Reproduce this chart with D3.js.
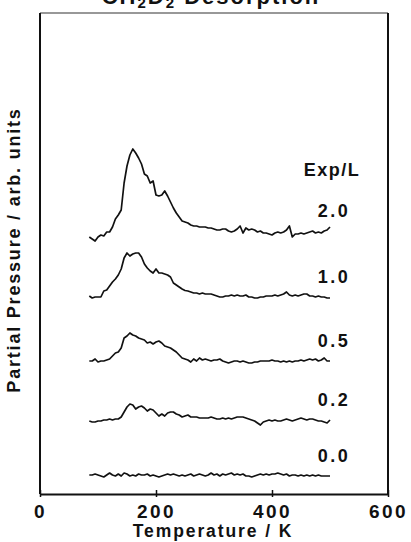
<!DOCTYPE html>
<html>
<head>
<meta charset="utf-8">
<script src="https://cdn.jsdelivr.net/npm/d3@7"></script>
<style>
body { margin: 0; background: #fff; }
text { font-family: "Liberation Sans", Arial, Helvetica, sans-serif; font-weight: bold; fill: #111; }
</style>
</head>
<body>
<svg id="chart" width="411" height="542"></svg>
<script>
// temperature grid (K) shared by all traces
var temps = [85, 90, 95, 100, 105, 110, 115, 120, 125, 130,
             135, 140, 145, 150, 155, 160, 165, 170, 175, 180,
             185, 190, 195, 200, 205, 210, 215, 220, 225, 230,
             235, 240, 245, 250, 255, 260, 265, 270, 275, 280,
             285, 290, 295, 300, 305, 310, 315, 320, 325, 330,
             335, 340, 345, 350, 355, 360, 365, 370, 375, 380,
             385, 390, 395, 400, 405, 410, 415, 420, 425, 430,
             435, 440, 445, 450, 455, 460, 465, 470, 475, 480,
             485, 490, 495, 500];

// exposure labels (L) and vertical stacking offsets (arb. units)
var exposures = ['2.0', '1.0', '0.5', '0.2', '0.0'];
var offsets = [26.4, 19.8, 13.4, 7.5, 1.9];

// partial pressure signal above each baseline (arb. units)
var sig20 = [-0.7, -0.9, -1.1, -0.7, -0.5, -0.6, -0.2, -0.2, 0.3, 1.1,
             1.5, 2.0, 4.7, 6.4, 7.5, 8.1, 7.7, 7.2, 6.6, 5.6,
             5.4, 4.7, 4.9, 3.5, 3.4, 3.5, 3.9, 3.4, 2.8, 2.2,
             1.7, 1.3, 0.9, 0.8, 0.7, 0.5, 0.4, 0.4, 0.3, 0.3,
             0.3, 0.2, 0.2, 0.1, 0.0, 0.0, 0.1, 0.1, -0.1, -0.2,
             -0.1, 0.1, 0.4, -0.3, 0.2, 0.0, 0.1, 0.0, -0.2, -0.1,
             -0.3, -0.3, -0.4, -0.5, -0.3, -0.2, -0.3, -0.2, 0.0, 0.4,
             -0.7, -0.4, -0.4, -0.3, -0.4, -0.3, -0.2, -0.1, -0.3, -0.2,
             -0.3, -0.1, 0.0, 0.3];
var sig10 = [0.0, -0.2, -0.1, -0.1, -0.1, 0.5, 0.6, 1.0, 1.4, 1.7,
             2.1, 2.7, 3.8, 4.3, 4.0, 4.2, 4.3, 4.3, 3.9, 3.2,
             2.8, 2.5, 2.3, 2.7, 2.3, 2.3, 2.2, 2.1, 1.9, 1.3,
             1.1, 0.9, 0.7, 0.55, 0.5, 0.4, 0.3, 0.3, 0.2, 0.3,
             0.2, 0.2, 0.2, 0.1, 0.0, -0.1, -0.1, 0.0, 0.0, 0.1,
             0.0, 0.1, 0.0, 0.0, 0.1, -0.1, -0.1, -0.2, -0.2, -0.1,
             -0.1, 0.0, 0.0, 0.0, 0.1, 0.0, 0.1, 0.2, 0.4, 0.1,
             0.0, 0.1, 0.0, 0.1, 0.2, 0.2, 0.0, 0.0, -0.1, 0.0,
             -0.1, -0.1, -0.2, -0.2];
var sig05 = [-0.1, -0.1, 0.1, -0.2, -0.1, -0.1, 0.0, 0.1, 0.4, 0.7,
             0.8, 1.2, 2.2, 2.4, 2.7, 2.5, 2.4, 2.2, 2.1, 2.0,
             1.7, 1.8, 1.6, 1.8, 1.9, 1.7, 1.4, 1.3, 1.2, 1.0,
             0.8, 0.5, 0.2, 0.1, 0.0, -0.2, 0.1, -0.1, 0.2, 0.0,
             0.1, 0.0, -0.1, 0.0, 0.0, 0.1, -0.1, -0.2, -0.3, -0.2,
             -0.1, -0.1, -0.2, -0.1, -0.2, -0.3, -0.3, -0.2, -0.2, -0.1,
             -0.1, -0.1, -0.1, 0.0, -0.1, -0.1, -0.2, -0.1, -0.2, -0.1,
             -0.2, -0.1, -0.1, 0.0, -0.1, 0.0, 0.1, 0.0, 0.1, -0.1,
             0.0, 0.2, -0.1, -0.1];
var sig02 = [-0.2, -0.3, -0.3, -0.2, -0.2, -0.1, -0.1, 0.0, -0.1, 0.0,
             0.0, 0.2, 0.7, 1.2, 1.5, 1.4, 1.0, 1.2, 1.3, 1.1,
             0.8, 1.0, 0.9, 0.6, 0.3, 0.5, 0.3, 0.6, 0.7, 0.7,
             0.5, 0.4, 0.2, 0.3, 0.4, 0.2, 0.2, 0.2, 0.1, 0.1,
             0.1, 0.1, 0.2, 0.1, 0.0, 0.0, 0.1, 0.0, 0.1, 0.0,
             0.1, 0.2, 0.2, 0.2, 0.1, 0.0, -0.1, -0.2, -0.4, -0.6,
             -0.3, -0.2, -0.1, -0.2, -0.1, -0.2, -0.2, -0.1, 0.0, -0.1,
             -0.2, -0.1, 0.0, 0.1, 0.0, -0.1, 0.0, 0.0, -0.1, -0.2,
             -0.2, -0.3, -0.4, -0.1];
var sig00 = [0.0, 0.0, 0.1, 0.0, -0.1, -0.2, 0.0, 0.2, 0.0, -0.1,
             0.1, -0.1, 0.2, 0.1, -0.1, 0.0, -0.1, 0.1, 0.0, 0.0,
             0.1, -0.1, 0.0, -0.1, -0.2, -0.1, 0.0, 0.1, 0.0, 0.1,
             0.0, -0.1, 0.0, -0.1, 0.0, 0.1, -0.1, 0.0, 0.1, 0.0,
             -0.1, 0.0, 0.2, 0.0, 0.1, -0.1, 0.1, 0.0, 0.1, 0.2,
             0.0, 0.1, 0.0, 0.1, -0.1, -0.1, -0.2, -0.1, 0.0, 0.1,
             0.0, 0.1, 0.0, 0.1, 0.1, 0.2, 0.1, 0.0, 0.1, -0.1,
             0.0, 0.0, -0.1, 0.0, -0.1, 0.0, -0.1, 0.0, -0.1, 0.0,
             -0.1, -0.1, -0.1, -0.1];

var xTicks = [0, 200, 400, 600];

var svg = d3.select('#chart');
var plotL = 40, plotR = 388, plotT = 13, plotB = 494;

var x = d3.scaleLinear().domain([0, 600]).range([plotL, plotR]);
var y = d3.scaleLinear().domain([0, 48.1]).range([plotB, plotT]);

var traces = [sig20, sig10, sig05, sig02, sig00];

// frame
svg.append('line')
    .attr('x1', plotL).attr('x2', plotR).attr('y1', plotT).attr('y2', plotT)
    .attr('stroke', '#333').attr('stroke-width', 1.2);
svg.append('line')
    .attr('x1', plotL).attr('x2', plotL).attr('y1', plotT).attr('y2', plotB)
    .attr('stroke', '#111').attr('stroke-width', 2);
svg.append('line')
    .attr('x1', plotR).attr('x2', plotR).attr('y1', plotT).attr('y2', plotB)
    .attr('stroke', '#111').attr('stroke-width', 2);

// bottom axis
var xAxis = d3.axisBottom(x)
    .tickValues(xTicks)
    .tickSizeInner(-4)
    .tickSizeOuter(0)
    .tickPadding(11);

var gx = svg.append('g')
    .attr('transform', 'translate(0,' + plotB + ')')
    .call(xAxis);
gx.select('.domain').attr('stroke', '#111').attr('stroke-width', 2);
gx.selectAll('.tick line').attr('stroke', '#111').attr('stroke-width', 1.5).attr('y1', 3);
gx.selectAll('.tick text')
    .style('font-size', '19px')
    .style('letter-spacing', '2.5px')
    .attr('fill', '#111');

// traces
var line = d3.line()
    .x(function (d, i) { return x(temps[i]); });

traces.forEach(function (sig, k) {
    line.y(function (d) { return y(offsets[k] + d); });
    svg.append('path')
        .datum(sig)
        .attr('fill', 'none')
        .attr('stroke', '#111')
        .attr('stroke-width', 1.7)
        .attr('stroke-linejoin', 'round')
        .attr('d', line);

    svg.append('text')
        .attr('x', 334)
        .attr('y', y(offsets[k]) - 13)
        .attr('text-anchor', 'middle')
        .style('font-size', '18px')
        .style('letter-spacing', '2.5px')
        .text(exposures[k]);
});

svg.append('text')
    .attr('x', 332)
    .attr('y', y(offsets[0]) - 54)
    .attr('text-anchor', 'middle')
    .style('font-size', '18px')
    .style('letter-spacing', '1.5px')
    .text('Exp/L');

// axis titles
svg.append('text')
    .attr('x', (plotL + plotR) / 2 - 1)
    .attr('y', 537)
    .attr('text-anchor', 'middle')
    .style('font-size', '17.5px')
    .style('letter-spacing', '1.9px')
    .text('Temperature / K');

svg.append('text')
    .attr('transform', 'translate(20,' + 250 + ') rotate(-90)')
    .attr('text-anchor', 'middle')
    .style('font-size', '18px')
    .style('letter-spacing', '1.8px')
    .text('Partial Pressure / arb. units');

// title, mostly cut off by the top edge
var title = svg.append('text')
    .attr('x', 211)
    .attr('y', 4)
    .attr('text-anchor', 'middle')
    .style('font-size', '22px')
    .style('letter-spacing', '2px');
title.append('tspan').text('CH');
title.append('tspan').attr('dy', 4).style('font-size', '15px').text('2');
title.append('tspan').attr('dy', -4).text('D');
title.append('tspan').attr('dy', 4).style('font-size', '15px').text('2');
title.append('tspan').attr('dy', -4).text(' Desorption');
</script>
</body>
</html>
